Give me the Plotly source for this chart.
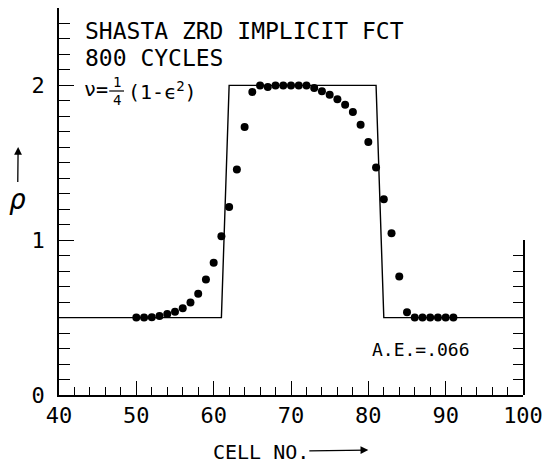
import plotly.graph_objects as go

# Cell numbers and computed density after 800 cycles
cells = list(range(50, 92))
rho = [0.50, 0.50, 0.503, 0.51, 0.523, 0.537, 0.561, 0.598, 0.654, 0.746,
       0.854, 1.026, 1.215, 1.456, 1.731, 1.957, 2.00, 1.99, 2.00, 2.00,
       2.00, 2.00, 2.00, 1.983, 1.963, 1.94, 1.91, 1.875, 1.828, 1.746,
       1.634, 1.469, 1.265, 1.045, 0.766, 0.535, 0.50, 0.50, 0.50, 0.50,
       0.50, 0.50]

# Exact square-wave profile
exact_x = [40, 61, 62, 81, 82, 100]
exact_y = [0.5, 0.5, 2.0, 2.0, 0.5, 0.5]

x_range = [40, 100]
y_range = [0, 2.5]

FONT = "DejaVu Sans Mono"
W, H = 551, 465
L, R, T, B = 59, 530, 8, 395


def px(x):
    return (x - L) / (R - L)


def py(y):
    return (B - y) / (B - T)


fig = go.Figure()
fig.add_trace(go.Scatter(x=exact_x, y=exact_y, mode="lines",
                         line=dict(color="black", width=1.4),
                         showlegend=False, hoverinfo="skip"))
fig.add_trace(go.Scatter(x=cells, y=rho, mode="markers",
                         marker=dict(color="black", size=8, symbol="circle"),
                         showlegend=False))
# short right-hand scale (0 to 1)
fig.add_trace(go.Scatter(x=[None], y=[None], xaxis="x", yaxis="y2",
                         showlegend=False, hoverinfo="skip"))

tickfont = dict(family=FONT, size=22, color="black")

fig.update_layout(
    width=W, height=H,
    margin=dict(l=L, r=W - R, t=T, b=H - B, pad=0),
    paper_bgcolor="white", plot_bgcolor="rgba(0,0,0,0)",
    xaxis=dict(range=x_range, tick0=40, dtick=10, ticks="inside", ticklen=14,
               tickwidth=1.2, tickcolor="black", showline=True,
               linecolor="black", linewidth=1.5, showgrid=False,
               zeroline=False, tickfont=tickfont, anchor="y",
               minor=dict(dtick=2, tick0=40, ticks="inside", ticklen=8,
                          tickwidth=1.2, tickcolor="black", showgrid=False)),
    yaxis=dict(range=y_range, tick0=0, dtick=1, ticks="inside", ticklen=15,
               tickwidth=1.2, tickcolor="black", showline=True,
               linecolor="black", linewidth=1.5, showgrid=False,
               zeroline=False, tickfont=tickfont, domain=[0, 1],
               ticklabelstandoff=8,
               minor=dict(dtick=0.1, tick0=0, ticks="inside", ticklen=11,
                          tickwidth=1.2, tickcolor="black", showgrid=False)),
    yaxis2=dict(range=[0, 1], domain=[0, 0.4], anchor="x", side="right",
                showline=True, linecolor="black", linewidth=1.5,
                ticks="inside", ticklen=10, tickwidth=1.2, tickcolor="black",
                dtick=0.1, tick0=0, showticklabels=False, showgrid=False,
                zeroline=False),
)

ann = [
    dict(text="SHASTA ZRD IMPLICIT FCT", x=px(83), y=py(31), size=23, xanchor="left"),
    dict(text="800 CYCLES", x=px(83), y=py(58), size=23, xanchor="left"),
    dict(text="\u03bd=", x=px(82), y=py(89), size=20, xanchor="left"),
    dict(text="1", x=px(117.5), y=py(82), size=14, xanchor="center"),
    dict(text="4", x=px(118), y=py(100), size=14, xanchor="center"),
    dict(text="(1-\u03f5<sup>2</sup>)", x=px(127), y=py(91), size=20, xanchor="left"),
    dict(text="A.E.=.066", x=px(426.5), y=py(349), size=18, xanchor="center"),
]
for a in ann:
    fig.add_annotation(text=a["text"], x=a["x"], y=a["y"], xref="paper",
                       yref="paper", xanchor=a["xanchor"], yanchor="middle",
                       showarrow=False,
                       font=dict(family=FONT, size=a["size"], color="black"))

# fraction bar
fig.add_shape(type="line", xref="paper", yref="paper",
              x0=px(110), x1=px(125), y0=py(91), y1=py(91),
              line=dict(color="black", width=1.2))

# axis names with their direction arrows
fig.add_annotation(text="CELL NO.", x=px(373), y=py(450), xref="paper",
                   yref="paper", showarrow=True, ax=265.5 - 373, ay=1.5,
                   arrowhead=2, arrowsize=1.2, arrowwidth=1.3,
                   arrowcolor="black", standoff=0, borderpad=0,
                   font=dict(family=FONT, size=20, color="black"))
fig.add_annotation(text="<i>\u03c1</i>", x=px(17.5), y=py(147), xref="paper",
                   yref="paper", showarrow=True, ax=-0.5, ay=52,
                   arrowhead=2, arrowsize=1.2, arrowwidth=1.3,
                   arrowcolor="black", standoff=0, borderpad=0,
                   font=dict(family=FONT, size=28, color="black"))

fig.write_html("out.html")
